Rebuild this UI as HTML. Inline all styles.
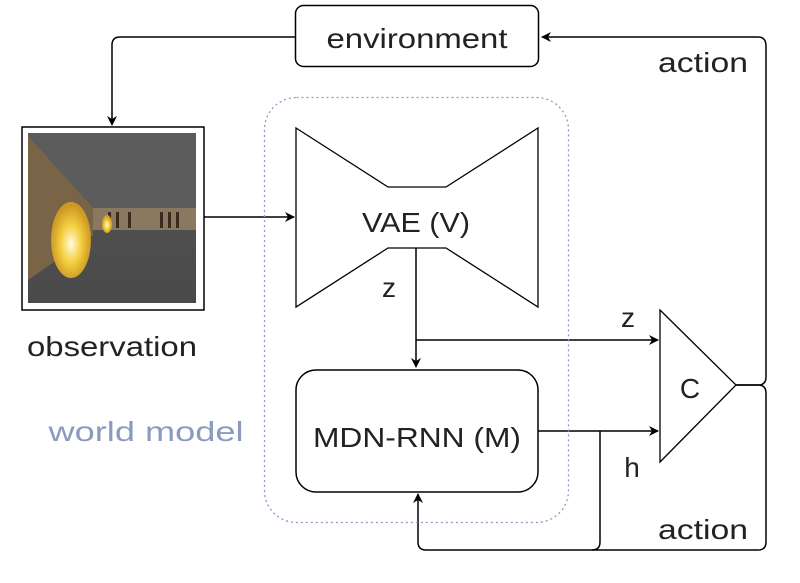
<!DOCTYPE html>
<html><head><style>html,body{margin:0;padding:0;background:#fff}</style></head>
<body>
<svg width="800" height="578" viewBox="0 0 800 578" xmlns="http://www.w3.org/2000/svg" font-family="Liberation Sans, sans-serif">
<defs>
<marker id="a" markerWidth="10" markerHeight="10" refX="9" refY="5" orient="auto" markerUnits="userSpaceOnUse"><path d="M0,0 L10,5 L0,10 L3,5 z" fill="#000"/></marker>
<radialGradient id="g1" cx="0.5" cy="0.55" r="0.5"><stop offset="0" stop-color="#fffbe0"/><stop offset="0.5" stop-color="#f5d040"/><stop offset="1" stop-color="#d8a020" stop-opacity="0.9"/></radialGradient>
<linearGradient id="fl" x1="0" y1="0" x2="0" y2="1"><stop offset="0" stop-color="#555"/><stop offset="1" stop-color="#4a4a4a"/></linearGradient>
</defs>
<g fill="none" stroke="#000" stroke-width="1.5">
<rect x="295.5" y="5.5" width="243" height="61" rx="8"/>
<rect x="22" y="127" width="182" height="183" stroke-width="1.5"/>
<path d="M296,128 L388,187 L446,187 L538,128 L538,307 L446,248 L388,248 L296,307 Z" stroke-width="1.3"/>
<rect x="296" y="370" width="242" height="122" rx="20"/>
<path d="M660,310 L736,385 L660,462 Z" stroke-width="1.3"/>
<path d="M204,217 L294,217" marker-end="url(#a)"/>
<path d="M295,37 L120,37 Q112,37 112,45 L112,125" marker-end="url(#a)"/>
<path d="M736,385 L758,385 Q766,385 766,377 L766,46 Q766,37 758,37 L542,37" marker-end="url(#a)"/>
<path d="M736,385 L758,385 Q766,385 766,393 L766,542 Q766,550 758,550 L426,550 Q418,550 418,542 L418,494" marker-end="url(#a)"/>
<path d="M600,431 L600,542 Q600,550 592,550"/>
<path d="M416,248 L416,367" marker-end="url(#a)"/>
<path d="M416,340 L658,340" marker-end="url(#a)"/>
<path d="M538,431 L658,431" marker-end="url(#a)"/>
</g>
<rect x="264.5" y="97.5" width="304" height="425" rx="32" fill="none" stroke="#8a9bc0" stroke-width="1.3" stroke-dasharray="2,3"/>
<rect x="28" y="133" width="168" height="170" fill="url(#fl)"/>
<rect x="28" y="133" width="168" height="75" fill="#5c5c5c"/>
<rect x="93" y="208" width="103" height="22" fill="#8a7860"/>
<path d="M28,136 L93,208 L93,235 L28,280 Z" fill="#7a6448"/>
<g fill="#3a2a20"><rect x="108" y="212" width="3" height="16"/><rect x="116" y="212" width="3" height="16"/><rect x="128" y="212" width="3" height="16"/><rect x="160" y="212" width="3" height="16"/><rect x="168" y="212" width="3" height="16"/><rect x="176" y="212" width="3" height="16"/></g>
<ellipse cx="71" cy="240" rx="20" ry="38" fill="url(#g1)"/>
<ellipse cx="107" cy="224" rx="5" ry="9" fill="url(#g1)"/>
<g font-size="28" fill="#222" text-anchor="middle" lengthAdjust="spacingAndGlyphs">
<text x="417" y="48" textLength="181" lengthAdjust="spacingAndGlyphs">environment</text>
<text x="703" y="72" textLength="90" lengthAdjust="spacingAndGlyphs">action</text>
<text x="703" y="539" textLength="90" lengthAdjust="spacingAndGlyphs">action</text>
<text x="416" y="232" textLength="108" lengthAdjust="spacingAndGlyphs">VAE (V)</text>
<text x="417" y="447" textLength="208" lengthAdjust="spacingAndGlyphs">MDN-RNN (M)</text>
<text x="112" y="356" textLength="170" lengthAdjust="spacingAndGlyphs">observation</text>
<text x="389" y="297">z</text>
<text x="628" y="327">z</text>
<text x="632" y="477">h</text>
<text x="690" y="398">C</text>
<text x="146" y="441" fill="#8a9bc0" textLength="195" lengthAdjust="spacingAndGlyphs">world model</text>
</g>
</svg>
</body></html>
